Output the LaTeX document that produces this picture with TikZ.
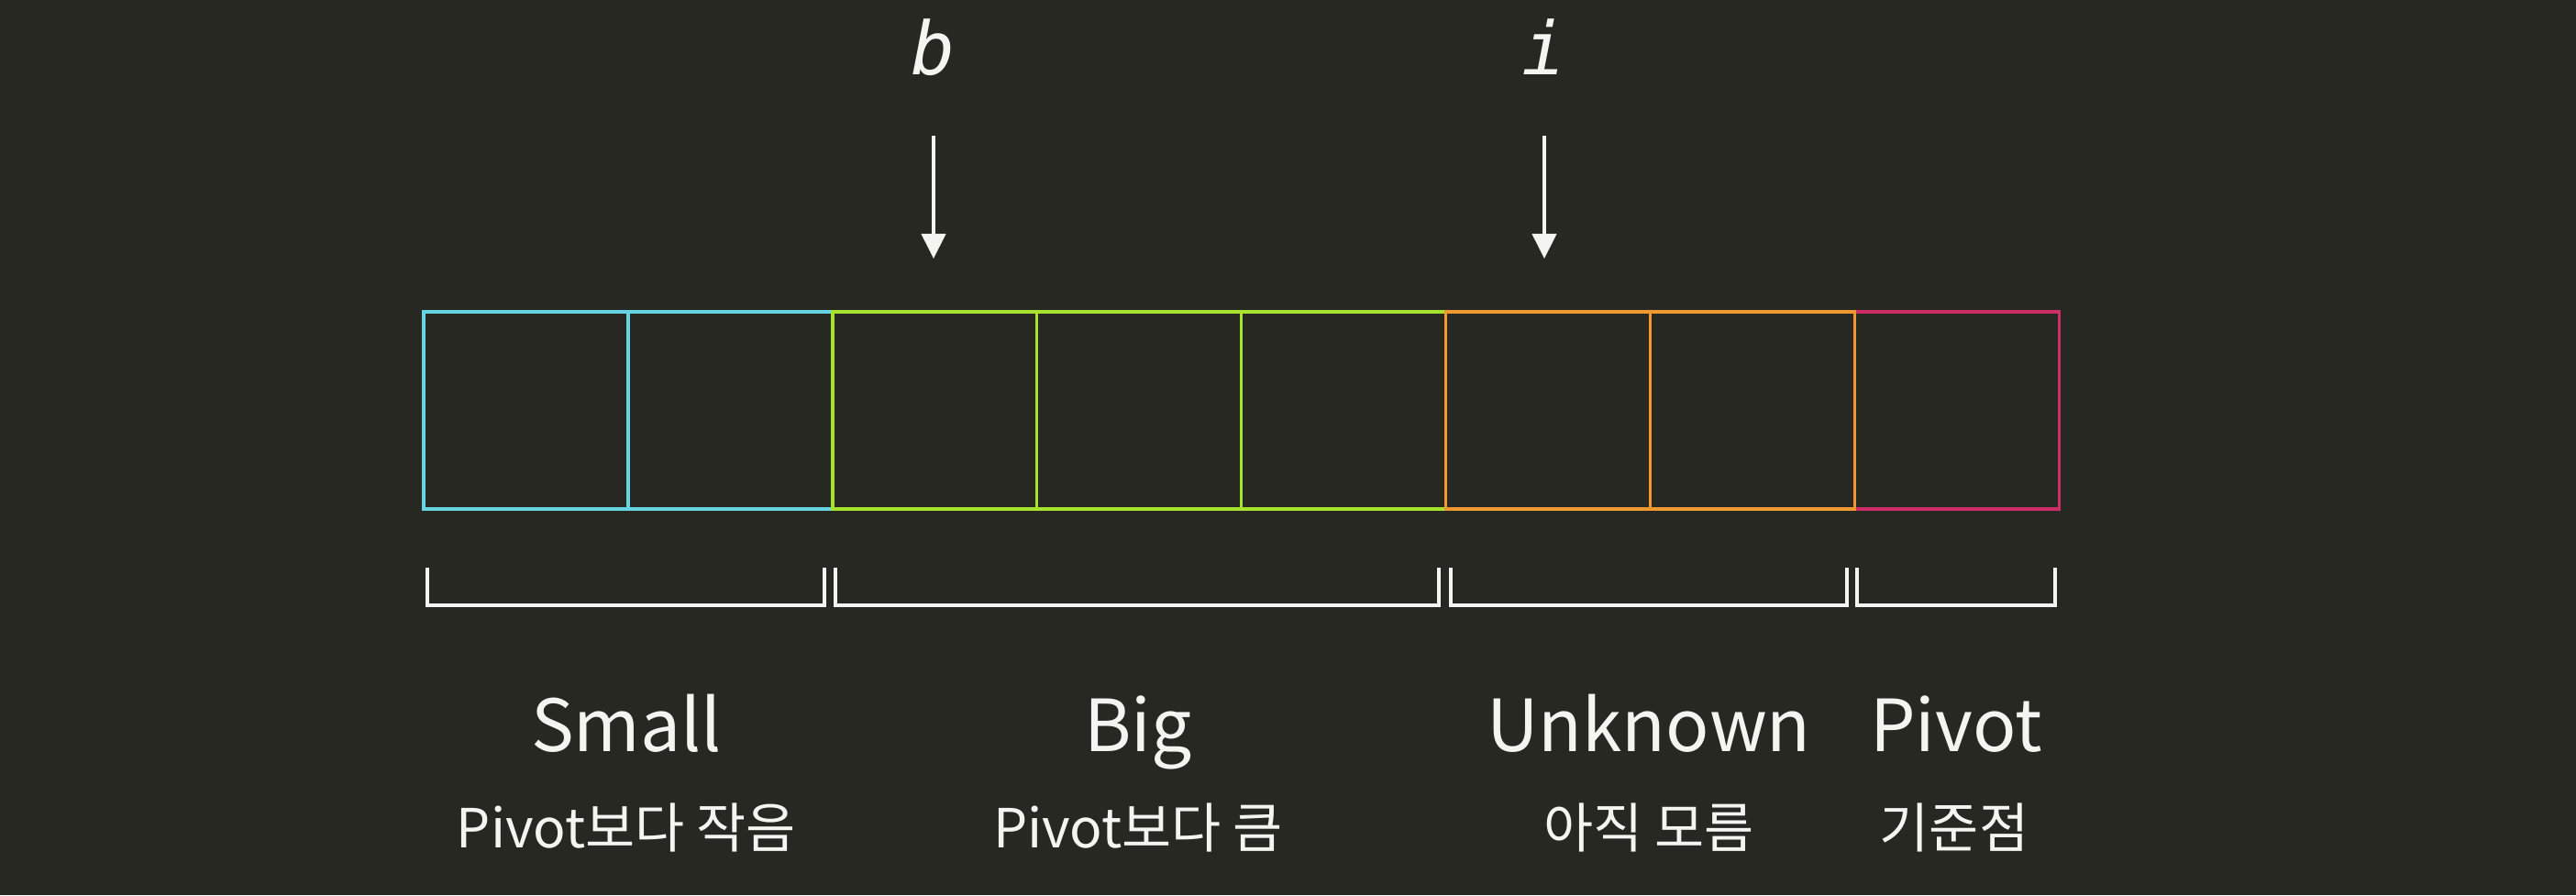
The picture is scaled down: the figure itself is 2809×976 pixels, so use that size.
\documentclass[tikz,border=0pt]{standalone}
\usepackage{fontspec}
\setmainfont{Noto Sans CJK KR}
\newfontfamily\codefont{DejaVu Sans Mono}
\usetikzlibrary{arrows.meta}
\definecolor{bgc}{RGB}{39,40,34}
\definecolor{cyanc}{RGB}{102,212,226}
\definecolor{greenc}{RGB}{166,226,46}
\definecolor{orangec}{RGB}{242,152,48}
\definecolor{pinkc}{RGB}{206,46,104}
\definecolor{inkc}{RGB}{244,244,240}
\tikzset{
  cellbox/.style={draw, line width=0.85pt, minimum width=222.9*0.25pt, minimum height=215*0.25pt, inner sep=0pt, outer sep=0pt},
  bracketline/.style={draw=inkc, line width=1pt},
  ptr/.style={draw=inkc, line width=0.8pt, -{Triangle[width=6.6pt,length=6.8pt]}},
  varlabel/.style={text=inkc, font=\codefont\itshape\fontsize{20}{24}\selectfont, anchor=base, inner sep=0pt},
  mainlabel/.style={text=inkc, font=\fontsize{19.6}{24}\selectfont, anchor=base, inner sep=0pt},
  sublabel/.style={text=inkc, font=\fontsize{14.7}{18}\selectfont, anchor=base, inner sep=0pt}
}
\begin{document}
\begin{tikzpicture}[x=0.25pt,y=-0.25pt]
\fill[bgc] (0,0) rectangle (2809,976);
\useasboundingbox (0,0) rectangle (2809,976);
% cells (centers): x0=462, w=222.9, y from 340 to 555
\node[cellbox, draw=cyanc] (c1) at (573.45,447.5) {};
\node[cellbox, draw=cyanc] (c2) at (796.35,447.5) {};
\node[cellbox, draw=greenc] (c3) at (1019.25,447.5) {};
\node[cellbox, draw=greenc] (c4) at (1242.15,447.5) {};
\node[cellbox, draw=greenc] (c5) at (1465.05,447.5) {};
\node[cellbox, draw=pinkc] (c8) at (2133.75,447.5) {};
\node[cellbox, draw=orangec] (c6) at (1687.95,447.5) {};
\node[cellbox, draw=orangec] (c7) at (1910.85,447.5) {};
% pointers
\node[varlabel] (blab) at (1018,81) {b};
\node[varlabel] (ilab) at (1684,81) {i};
\coordinate (bs) at (1018,148);
\coordinate (be) at (1018,282);
\coordinate (is) at (1684,148);
\coordinate (ie) at (1684,282);
\draw[ptr] (bs) -- (be);
\draw[ptr] (is) -- (ie);
% brackets
\draw[bracketline] (466,619) -- (466,660) -- (899,660) -- (899,619);
\draw[bracketline] (911,619) -- (911,660) -- (1569,660) -- (1569,619);
\draw[bracketline] (1582,619) -- (1582,660) -- (2014,660) -- (2014,619);
\draw[bracketline] (2025,619) -- (2025,660) -- (2241,660) -- (2241,619);
% labels
\node[mainlabel] (small) at (683,819) {Small};
\node[mainlabel] (big) at (1241,819) {Big};
\node[mainlabel] (unknown) at (1798,819) {Unknown};
\node[mainlabel] (pivot) at (2133,819) {Pivot};
\node[sublabel] (smallsub) at (683,924) {Pivot보다 작음};
\node[sublabel] (bigsub) at (1241,924) {Pivot보다 큼};
\node[sublabel] (unknownsub) at (1798,924) {아직 모름};
\node[sublabel] (pivotsub) at (2131,924) {기준점};
\end{tikzpicture}
\end{document}
